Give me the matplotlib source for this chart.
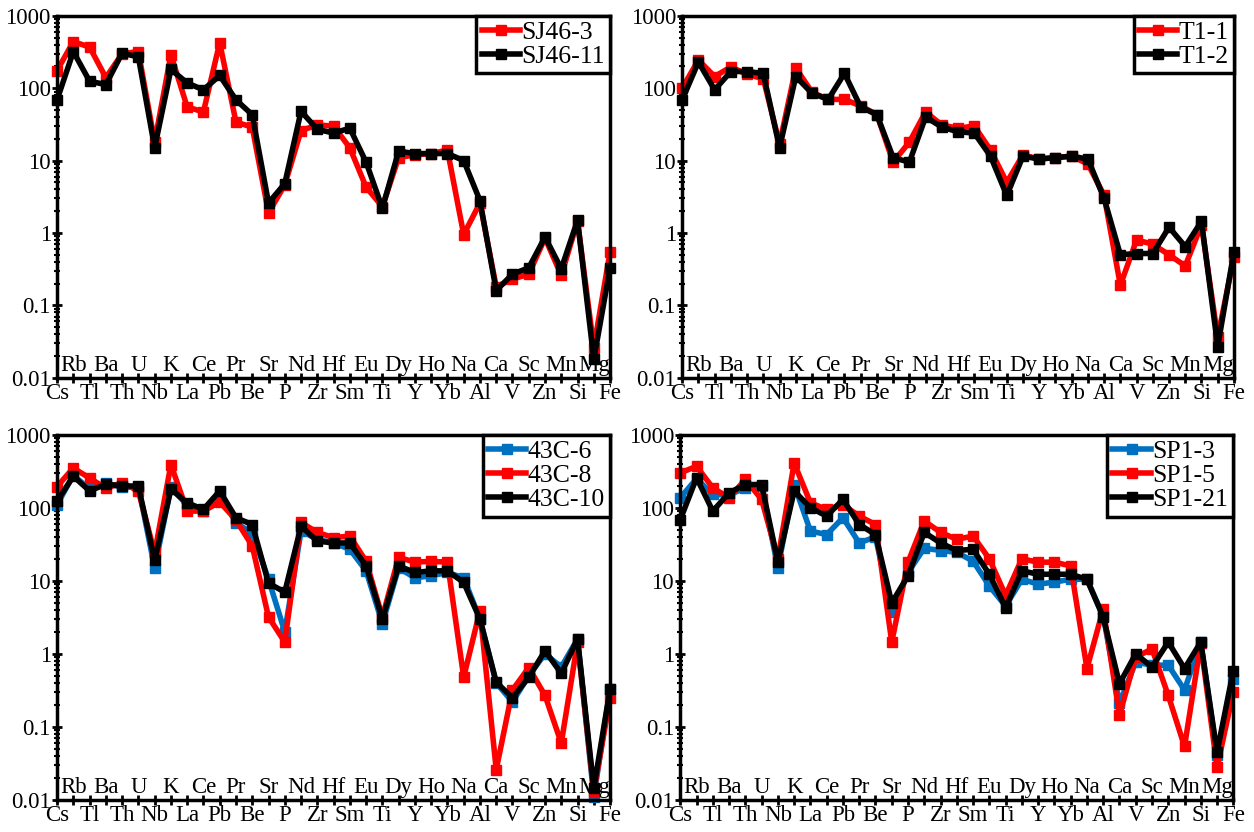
import matplotlib
matplotlib.use('Agg')
import matplotlib.pyplot as plt
import matplotlib.transforms as mtransforms
from matplotlib.ticker import FixedLocator, LogLocator, NullFormatter

plt.rcParams['font.family'] = ['Liberation Serif', 'DejaVu Serif']

elements = ['Cs', 'Rb', 'Tl', 'Ba', 'Th', 'U', 'Nb', 'K', 'La', 'Ce', 'Pb', 'Pr', 'Be',
            'Sr', 'P', 'Nd', 'Zr', 'Hf', 'Sm', 'Eu', 'Ti', 'Dy', 'Y', 'Ho', 'Yb', 'Na',
            'Al', 'Ca', 'V', 'Sc', 'Zn', 'Mn', 'Si', 'Mg', 'Fe']

# panel 1
sj46_3 = [175, 440, 370, 140, 300, 320, 18, 290, 55, 47, 425, 34, 29, 1.9, 4.6, 26, 31, 30,
          15, 4.3, 2.3, 11, 12, 12.5, 14, 0.95, 2.6, 0.18, 0.23, 0.27, 0.85, 0.26, 1.45, 0.026, 0.55]
sj46_11 = [69, 320, 125, 112, 305, 270, 15, 182, 118, 95, 150, 69, 43, 2.6, 4.8, 48, 27, 24,
           28, 9.5, 2.2, 13.5, 12.5, 12.5, 12.5, 10, 2.8, 0.16, 0.27, 0.33, 0.88, 0.32, 1.5, 0.018, 0.33]
# panel 2
t1_1 = [100, 245, 145, 197, 155, 135, 17, 190, 88, 70, 70, 57, 43, 9.5, 18, 47, 31, 28,
        30, 14, 5, 12, 10.5, 11, 11.5, 9, 3.3, 0.19, 0.8, 0.7, 0.5, 0.35, 1.3, 0.036, 0.47]
t1_2 = [69, 230, 95, 170, 170, 160, 15, 145, 85, 70, 160, 55, 43, 11, 9.5, 40, 29, 25,
        24, 11.5, 3.3, 11.5, 10.5, 11, 11.5, 10.5, 3, 0.5, 0.52, 0.52, 1.2, 0.65, 1.45, 0.027, 0.55]
# panel 3
c43_6 = [110, 280, 180, 215, 190, 195, 15, 190, 108, 90, 160, 62, 45, 10.5, 2.0, 48, 37, 33,
         27, 13.7, 2.6, 15, 11, 11.7, 13, 11, 3.0, 0.4, 0.22, 0.5, 1.0, 0.66, 1.6, 0.011, 0.33]
c43_8 = [195, 350, 255, 185, 220, 170, 24, 390, 90, 90, 120, 68, 30, 3.2, 1.45, 63, 46, 39,
         41, 18.5, 3.2, 21, 18, 18.5, 18, 0.48, 3.9, 0.026, 0.32, 0.65, 0.27, 0.06, 1.45, 0.013, 0.245]
c43_10 = [123, 270, 170, 210, 200, 197, 19, 180, 117, 95, 170, 73, 59, 9.3, 7, 56, 35, 33,
          33, 16, 3.0, 16, 13, 13.7, 13.7, 9.5, 3.0, 0.41, 0.25, 0.48, 1.1, 0.54, 1.6, 0.0145, 0.33]
# panel 4
sp1_3 = [137, 250, 152, 150, 187, 200, 15, 208, 48, 43, 73, 33, 40, 3.7, 13, 28, 26, 24.5,
         18.6, 8.5, 4.5, 10.5, 9, 9.6, 10.5, 10.5, 3.3, 0.21, 0.77, 0.7, 0.7, 0.32, 1.45, 0.041, 0.46]
sp1_5 = [300, 370, 187, 137, 244, 130, 20, 410, 117, 95, 110, 77, 59, 1.45, 18, 66, 46, 37,
         41, 20, 6.3, 20, 18, 18, 16, 0.63, 4.1, 0.145, 0.9, 1.17, 0.27, 0.054, 1.4, 0.028, 0.3]
sp1_21 = [69, 257, 90, 160, 208, 208, 18, 170, 100, 77, 130, 59, 43, 5.0, 11.7, 46, 33, 26,
          27, 12.3, 4.3, 13.7, 12.3, 12.3, 12.3, 10.5, 3.2, 0.39, 1.0, 0.66, 1.45, 0.63, 1.45, 0.045, 0.59]

BLUE = '#0070C0'
RED = '#FF0000'
BLACK = '#000000'

panels = [
    [('SJ46-3', sj46_3, RED), ('SJ46-11', sj46_11, BLACK)],
    [('T1-1', t1_1, RED), ('T1-2', t1_2, BLACK)],
    [('43C-6', c43_6, BLUE), ('43C-8', c43_8, RED), ('43C-10', c43_10, BLACK)],
    [('SP1-3', sp1_3, BLUE), ('SP1-5', sp1_5, RED), ('SP1-21', sp1_21, BLACK)],
]

# axes rectangles in figure fractions
rects = [
    [0.0455, 0.546, 0.441, 0.435],
    [0.5440, 0.546, 0.440, 0.435],
    [0.0455, 0.0385, 0.441, 0.439],
    [0.5425, 0.0385, 0.441, 0.439],
]

fig = plt.figure(figsize=(12.54, 8.32), dpi=100)
x = list(range(len(elements)))
yticks = [0.01, 0.1, 1, 10, 100, 1000]
ylabels = ['0.01', '0.1', '1', '10', '100', '1000']

for rect, series in zip(rects, panels):
    ax = fig.add_axes(rect)
    for name, vals, col in series:
        ax.plot(x, vals, color=col, lw=4, marker='s', ms=7.5, label=name, clip_on=False)
    ax.set_yscale('log')
    ax.set_ylim(0.01, 1000)
    ax.set_xlim(0, len(elements) - 1)
    ax.yaxis.set_major_locator(FixedLocator(yticks))
    ax.set_yticklabels(ylabels)
    ax.yaxis.set_minor_locator(LogLocator(base=10, subs=range(2, 10)))
    ax.yaxis.set_minor_formatter(NullFormatter())
    ax.set_xticks(x)
    ax.set_xticklabels([e if i % 2 == 0 else '' for i, e in enumerate(elements)])
    ax.tick_params(axis='both', which='major', direction='inout', width=2, length=7,
                   labelsize=16.5, pad=1)
    ax.tick_params(axis='y', which='minor', direction='inout', width=1.5, length=4)
    ax.tick_params(axis='x', pad=0)
    for s in ax.spines.values():
        s.set_linewidth(2.5)
    trans = mtransforms.blended_transform_factory(ax.transData, ax.transAxes)
    for i, e in enumerate(elements):
        if i % 2 == 1:
            ax.text(i, 0.006, e, transform=trans, ha='center', va='bottom', fontsize=16.5)
    leg = ax.legend(loc='upper right', borderaxespad=0, fontsize=18.5, numpoints=1,
                    handlelength=1.5, handletextpad=0.05, labelspacing=0.05,
                    borderpad=0.2, fancybox=False, framealpha=1, edgecolor='black')
    leg.get_frame().set_linewidth(2.5)

fig.savefig('out.png', dpi=100)
